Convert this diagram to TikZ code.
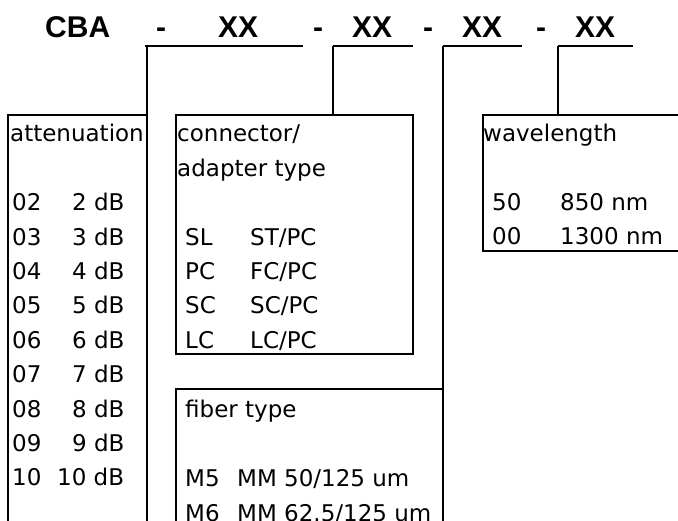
\documentclass[tikz,border=0pt]{standalone}
\usepackage{fontspec}
\setmainfont{DejaVu Sans}
\newfontfamily\titlefont{Liberation Sans}
\begin{document}
\begin{tikzpicture}[x=1pt,y=-1pt,
  rule/.style={line width=2.1pt},
  ttl/.style={anchor=base west, inner sep=0pt, font=\titlefont\bfseries\fontsize{30}{36}\selectfont},
  body/.style={anchor=base west, inner sep=0pt, font=\fontsize{23}{28}\selectfont}]
\useasboundingbox (0,0) rectangle (678,521);
\clip (0,0) rectangle (678,521);
% title
\node[ttl] (cba) at (45,38) {CBA};
\node[ttl] (d1) at (156,38) {-};
\node[ttl] (x1) at (218,38) {XX};
\node[ttl] (d2) at (313,38) {-};
\node[ttl] (x2) at (352,38) {XX};
\node[ttl] (d3) at (423,38) {-};
\node[ttl] (x3) at (462,38) {XX};
\node[ttl] (d4) at (536,38) {-};
\node[ttl] (x4) at (575,38) {XX};
% coordinates
\coordinate (u1a) at (145,46); \coordinate (u1b) at (303,46); \coordinate (v1) at (147,46);
\coordinate (u2a) at (333,46); \coordinate (u2b) at (413,46);
\coordinate (u3a) at (443,46); \coordinate (u3b) at (522,46);
\coordinate (u4a) at (558,46); \coordinate (u4b) at (633,46);
\coordinate (attTL) at (8,115); \coordinate (attTR) at (147,115);
\coordinate (attBL) at (8,540); \coordinate (attBR) at (147,540);
\coordinate (conTL) at (176,115); \coordinate (conBR) at (413,354); \coordinate (conT) at (333,115);
\coordinate (fibTL) at (176,389); \coordinate (fibTR) at (443,389);
\coordinate (fibBL) at (176,540); \coordinate (fibBR) at (443,540);
\coordinate (wavTL) at (483,115); \coordinate (wavBL) at (483,251);
\coordinate (wavTR) at (700,115); \coordinate (wavBR) at (700,251); \coordinate (wavT) at (558,115);
% underlines and leaders
\draw[rule] (u1a) -- (u1b);
\draw[rule] (u2a) -- (u2b);
\draw[rule] (u3a) -- (u3b);
\draw[rule] (u4a) -- (u4b);
\draw[rule] (v1) -- (attBR);
\draw[rule] (u2a) -- (conT);
\draw[rule] (u3a) -- (fibBR);
\draw[rule] (u4a) -- (wavT);
% boxes
\draw[rule] (attBL) -- (attTL) -- (attTR);
\draw[rule] (conTL) rectangle (conBR);
\draw[rule] (fibBL) -- (fibTL) -- (fibTR);
\draw[rule] (wavTR) -- (wavTL) -- (wavBL) -- (wavBR);
% attenuation
\node[body] (attt) at (10,142) {attenuation};
\foreach \c/\v/\vx/\k in {02/2 dB/72/2,03/3 dB/72/3,04/4 dB/72/4,05/5 dB/72/5,06/6 dB/72/6,07/7 dB/72/7,08/8 dB/72/8,09/9 dB/72/9,10/10 dB/57/10}{
  \node[body] (ac\k) at (12,142+34.4*\k) {\c};
  \node[body] (av\k) at (\vx,142+34.4*\k) {\v};
}
% connector
\node[body] (cont1) at (177,142) {connector/};
\node[body] (cont2) at (177,177) {adapter type};
\foreach \c/\v/\k in {SL/ST\slash PC/3,PC/FC\slash PC/4,SC/SC\slash PC/5,LC/LC\slash PC/6}{
  \node[body] (cc\k) at (185,142+34.4*\k) {\c};
  \node[body] (cv\k) at (250,142+34.4*\k) {\v};
}
% fiber
\node[body] (fibt) at (185,417.5) {fiber type};
\node[body] (fc1) at (185,486.5) {M5};
\node[body] (fv1) at (237,486.5) {MM 50/125 um};
\node[body] (fc2) at (185,521) {M6};
\node[body] (fv2) at (237,521) {MM 62.5/125 um};
% wavelength
\node[body] (wavt) at (483,142) {wavelength};
\node[body] (wc1) at (492,210.5) {50};
\node[body] (wv1) at (560,210.5) {850 nm};
\node[body] (wc2) at (492,245) {00};
\node[body] (wv2) at (560,245) {1300 nm};
\end{tikzpicture}
\end{document}
